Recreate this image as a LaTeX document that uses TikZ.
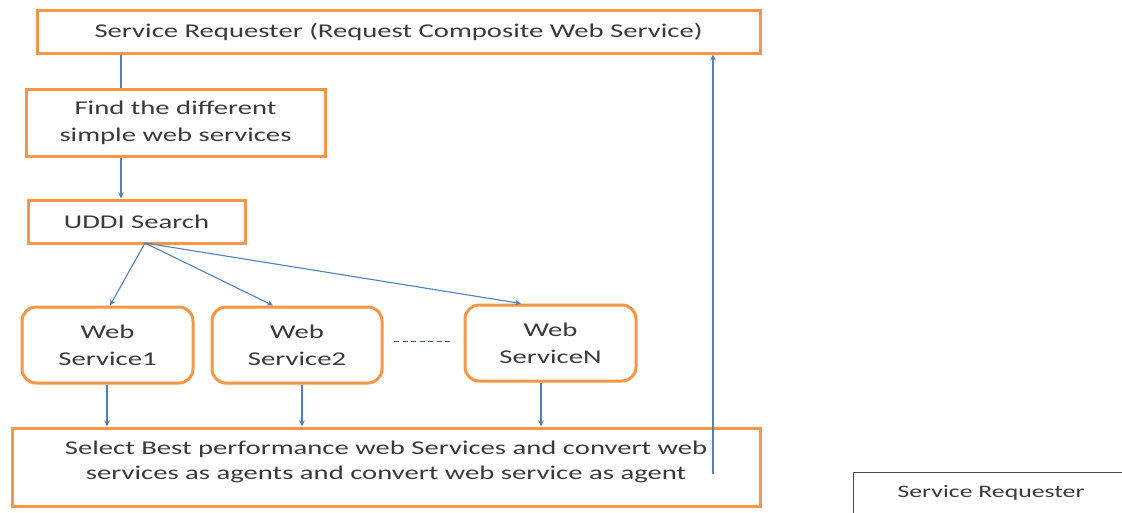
\documentclass[tikz,border=0pt]{standalone}
\usepackage{fontspec}
\setmainfont{Carlito}[FakeStretch=1.47]
\usetikzlibrary{arrows.meta}
\definecolor{boxorange}{HTML}{F79646}
\definecolor{linkblue}{HTML}{4F81BD}
\definecolor{txtgray}{HTML}{3A3A3A}
\begin{document}
\begin{tikzpicture}[x=1pt,y=-1pt,
  obox/.style={draw=boxorange,line width=3pt,inner sep=0pt,align=center,
    font=\fontsize{19.5}{27}\selectfont,text=txtgray},
  wsbox/.style={obox,rounded corners=14pt,minimum width=171pt,minimum height=76pt},
  link/.style={draw=linkblue,line width=1.1pt},
  arr/.style={link,-{Stealth[length=6pt,width=5.5pt]}},
  thinbox/.style={draw=black!70,line width=1pt,inner sep=0pt,
    font=\fontsize{17.5}{20}\selectfont,text=txtgray}]
\useasboundingbox (0,0) rectangle (1122,512);
\fill[white] (0,0) rectangle (1122,512);

\node[obox,minimum width=723pt,minimum height=43pt] (top) at (398.5,31.5)
  {Service Requester (Request Composite Web Service)};
\node[obox,minimum width=299pt,minimum height=67pt] (find) at (175.5,122.5)
  {Find the different\\simple web services};
\node[obox,minimum width=217pt,minimum height=43pt] (uddi) at (136.5,221.5)
  {UDDI Search};
\node[wsbox] (ws1) at (107.5,345) {Web\\Service1};
\node[wsbox,minimum width=170pt] (ws2) at (297,345) {Web\\Service2};
\node[wsbox] (wsn) at (550.5,343) {Web\\ServiceN};
\node[obox,minimum width=748pt,minimum height=78pt] (sel) at (386,467) {};
\node[align=center,font=\fontsize{19.5}{25}\selectfont,text=txtgray,inner sep=0pt]
  (seltxt) at (386,461.5)
  {Select Best performance web Services and convert web\\services as agents and convert web service as agent};

\begin{scope}
\clip (0,0) rectangle (1122,512);
\node[thinbox,minimum width=276pt,minimum height=42pt] (sr) at (991,493) {Service Requester};
\end{scope}

% coordinates for connector positions
\coordinate (xa) at (121,0);
\coordinate (fan) at (145,243);
\coordinate (t2) at (273,0);
\coordinate (tn) at (521,0);
\coordinate (d1) at (107,0);
\coordinate (d2) at (302,0);
\coordinate (dn) at (541,0);
\coordinate (upstart) at (713,474);
\coordinate (dashA) at (394,341);
\coordinate (dashB) at (452,341);

\draw[link] (top.south -| xa) -- (find.north -| xa);
\draw[arr] (find.south -| xa) -- (uddi.north -| xa);
\draw[arr] (fan) -- ([xshift=2.5pt]ws1.north);
\draw[arr] (fan) -- (ws2.north -| t2);
\draw[arr] (fan) -- (wsn.north -| tn);
\draw[arr] (ws1.south -| d1) -- (sel.north -| d1);
\draw[arr] (ws2.south -| d2) -- (sel.north -| d2);
\draw[arr] (wsn.south -| dn) -- (sel.north -| dn);
\draw[arr] (upstart) -- (top.south -| upstart);
\draw[draw=linkblue!70!black,line width=0.9pt,dash pattern=on 5pt off 3.5pt] (dashA) -- (dashB);
\end{tikzpicture}
\end{document}
